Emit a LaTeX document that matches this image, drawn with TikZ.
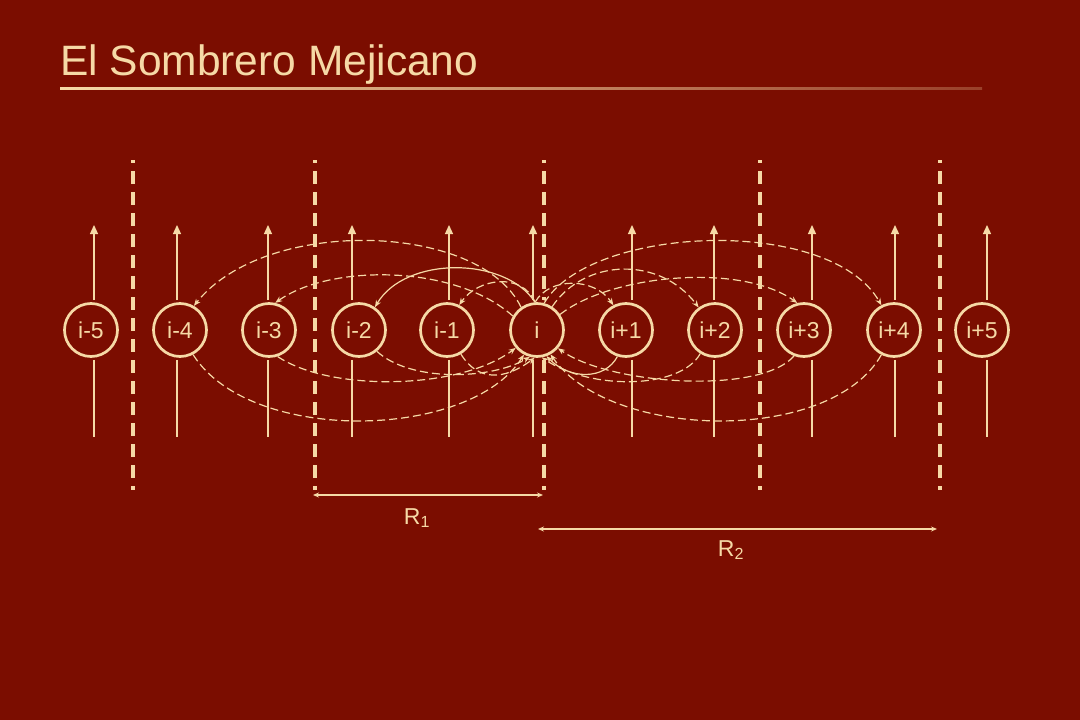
\documentclass[tikz,border=0pt]{standalone}
\usepackage{fontspec}
\setmainfont{Liberation Sans}
\usetikzlibrary{arrows.meta}
\definecolor{bg}{HTML}{7B0D00}
\definecolor{cream}{HTML}{F6D9A6}
\begin{document}
\begin{tikzpicture}[x=1pt,y=-1pt,
  cell/.style={circle, draw=cream, line width=2.7pt, fill=bg, minimum size=53pt, inner sep=0pt,
    text=cream, font=\fontsize{23}{23}\selectfont, preaction={draw=bg, line width=8pt}},
  vline/.style={draw=cream, line width=1.3pt},
  uptip/.style={-{Triangle[length=9pt,width=8pt]}},
  sepline/.style={draw=cream, line width=3.3pt, dash pattern=on 13pt off 8pt, dash phase=10pt},
  darc/.style={draw=cream, line width=1.2pt, dash pattern=on 8pt off 4pt, -{Stealth[length=7pt,width=5.5pt]}},
  sarc/.style={draw=cream, line width=1.2pt, -{Stealth[length=7pt,width=5.5pt]}},
  dim/.style={draw=cream, line width=2pt, {Stealth[length=6pt,width=5pt]}-{Stealth[length=6pt,width=5pt]}},
  lbl/.style={text=cream, font=\fontsize{23}{23}\selectfont, inner sep=0pt}
]
\useasboundingbox (0,0) rectangle (1080,720);
\fill[bg] (0,0) rectangle (1080,720);

% title
\node[anchor=base west, text=cream, font=\fontsize{42.5}{50}\selectfont, inner sep=0pt] (title) at (60,75) {El Sombrero Mejicano};
\shade[left color=cream, middle color=cream!85!bg, right color=cream!25!bg] (60,87) rectangle (982,89.5);

% dashed separators
\foreach \k/\x in {a/133, b/315, c/544, d/760, e/940} {
  \coordinate (s\k t) at (\x,160);
  \coordinate (s\k b) at (\x,490);
  \draw[sepline] (s\k t) -- (s\k b);
}

% nodes
\node[cell] (nm5) at (91,330) {i-5};
\node[cell] (nm4) at (180,330) {i-4};
\node[cell] (nm3) at (269,330) {i-3};
\node[cell] (nm2) at (359,330) {i-2};
\node[cell] (nm1) at (447,330) {i-1};
\node[cell] (n0) at (537,330) {i};
\node[cell] (np1) at (626,330) {i+1};
\node[cell] (np2) at (715,330) {i+2};
\node[cell] (np3) at (804,330) {i+3};
\node[cell] (np4) at (894,330) {i+4};
\node[cell] (np5) at (982,330) {i+5};

% vertical output lines
\foreach \n/\x in {nm5/94, nm4/177, nm3/268, nm2/352, nm1/449, n0/533, np1/632, np2/714, np3/812, np4/895, np5/987} {
  \coordinate (t\n) at (\x,225);
  \coordinate (b\n) at (\x,437);
  \draw[vline, shorten <=2pt] (t\n |- \n.south) -- (b\n);
  \draw[vline, uptip, shorten <=2pt] (t\n |- \n.north) -- (t\n);
}

% upper arcs (left)
\draw[darc] (n0.125) .. controls (480,222) and (265,216) .. (nm4.60);
\draw[darc] (n0.150) .. controls (455,264) and (330,264) .. (nm3.77);
\draw[sarc] (n0.94) .. controls (505,256) and (405,256) .. (nm2.55);
\draw[darc] (n0.94) .. controls (522,272) and (478,278) .. (nm1.64);
% upper arcs (right)
\draw[darc] (n0.94) .. controls (550,276) and (595,278) .. (np1.117);
\draw[darc] (n0.57) .. controls (585,258) and (660,256) .. (np2.126);
\draw[darc] (n0.34) .. controls (610,275) and (740,262) .. (np3.104);
\draw[darc] (n0.75) .. controls (590,225) and (830,215) .. (np4.117);

% lower arcs (left)
\draw[darc] (nm1.300) .. controls (478,382) and (505,380) .. (n0.265);
\draw[darc] (nm2.310) .. controls (410,382) and (490,380) .. (n0.255);
\draw[darc] (nm3.288) .. controls (330,392) and (460,390) .. (n0.220);
\draw[darc] (nm4.298) .. controls (250,445) and (470,440) .. (n0.242);
% lower arcs (right)
\draw[sarc] (np1.252) .. controls (605,380) and (570,380) .. (n0.290);
\draw[darc] (np2.238) .. controls (680,390) and (590,390) .. (n0.280);
\draw[darc] (np3.249) .. controls (760,395) and (610,385) .. (n0.319);
\draw[darc] (np4.243) .. controls (830,445) and (610,440) .. (n0.299);

% range markers
\coordinate (r1a) at (313,495);
\coordinate (r1b) at (543,495);
\coordinate (r2a) at (538,529);
\coordinate (r2b) at (937,529);
\draw[dim] (r1a) -- (r1b);
\draw[dim] (r2a) -- (r2b);
\node[lbl] (R1) at (417,518) {R\textsubscript{1}};
\node[lbl] (R2) at (731,550) {R\textsubscript{2}};
\end{tikzpicture}
\end{document}
